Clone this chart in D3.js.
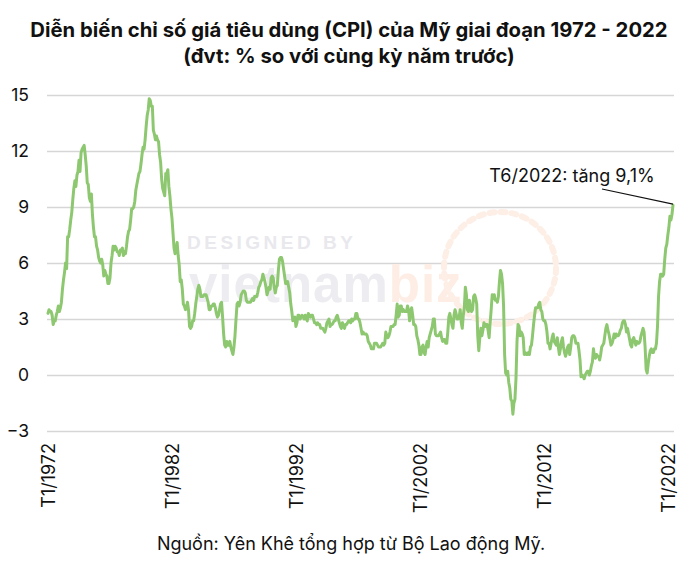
<!DOCTYPE html>
<html>
<head>
<meta charset="utf-8">
<script src="https://cdn.jsdelivr.net/npm/d3@7"></script>
<style>
  html, body { margin: 0; padding: 0; background: #ffffff; }
  svg { display: block; }
</style>
</head>
<body>
<div id="chart"></div>
<script>
// ---- DATA ----
const titleLines = [
  "Diễn biến chỉ số giá tiêu dùng (CPI) của Mỹ giai đoạn 1972 - 2022",
  "(đvt: % so với cùng kỳ năm trước)"
];
const sourceText = "Nguồn: Yên Khê tổng hợp từ Bộ Lao động Mỹ.";
const annotationText = "T6/2022: tăng 9,1%";
const startYear = 1972;
const yTicks = [-3, 0, 3, 6, 9, 12, 15];
const xTickYears = [1972, 1982, 1992, 2002, 2012, 2022];

// Monthly CPI, % y/y, Jan 1972 .. Jun 2022 (one row per year)
const cpiYoY = [
  [3.3, 3.5, 3.4, 3.4, 3.2, 2.7, 2.9, 2.9, 3.2, 3.4, 3.7, 3.4],
  [3.6, 3.9, 4.6, 5.1, 5.5, 6.0, 5.7, 7.4, 7.4, 7.8, 8.3, 8.7],
  [9.4, 10.0, 10.4, 10.1, 10.7, 10.9, 11.5, 10.9, 11.9, 12.1, 12.2, 12.3],
  [11.8, 11.2, 10.3, 10.2, 9.5, 9.3, 9.7, 8.6, 7.9, 7.4, 7.4, 6.9],
  [6.7, 6.3, 6.1, 6.0, 6.2, 5.9, 5.3, 5.6, 5.4, 5.3, 4.9, 4.9],
  [5.2, 6.0, 6.4, 6.9, 6.7, 6.9, 6.8, 6.6, 6.6, 6.4, 6.7, 6.7],
  [6.8, 6.4, 6.6, 6.5, 6.9, 7.4, 7.7, 7.8, 8.3, 8.9, 8.9, 9.0],
  [9.3, 9.9, 10.2, 10.5, 10.8, 10.9, 11.3, 11.8, 12.2, 12.1, 12.6, 13.3],
  [13.9, 14.2, 14.8, 14.7, 14.4, 14.4, 13.1, 12.9, 12.6, 12.8, 12.6, 12.5],
  [11.8, 11.4, 10.5, 10.0, 9.8, 9.6, 10.8, 10.8, 11.0, 10.1, 9.6, 8.9],
  [8.4, 7.6, 6.8, 6.5, 6.7, 7.1, 6.4, 5.9, 5.0, 5.1, 4.6, 3.8],
  [3.7, 3.5, 3.6, 3.9, 3.5, 2.6, 2.5, 2.6, 2.9, 2.9, 3.3, 3.8],
  [4.2, 4.6, 4.8, 4.6, 4.2, 4.2, 4.2, 4.3, 4.3, 4.3, 4.1, 3.9],
  [3.5, 3.5, 3.7, 3.7, 3.8, 3.8, 3.6, 3.3, 3.1, 3.2, 3.5, 3.8],
  [3.9, 3.1, 2.2, 1.6, 1.5, 1.8, 1.6, 1.6, 1.8, 1.5, 1.3, 1.1],
  [1.5, 2.1, 3.0, 3.8, 3.9, 3.7, 3.9, 4.3, 4.4, 4.5, 4.5, 4.4],
  [4.0, 3.9, 3.9, 3.9, 3.9, 4.0, 4.1, 4.0, 4.2, 4.2, 4.2, 4.4],
  [4.7, 4.8, 5.0, 5.1, 5.4, 5.2, 5.0, 4.7, 4.3, 4.5, 4.7, 4.6],
  [5.2, 5.3, 5.2, 4.7, 4.4, 4.7, 4.8, 5.6, 6.2, 6.3, 6.3, 6.1],
  [5.7, 5.3, 4.9, 4.9, 5.0, 4.7, 4.4, 3.8, 3.4, 2.9, 3.0, 3.1],
  [2.6, 2.8, 3.2, 3.2, 3.0, 3.1, 3.2, 3.1, 3.0, 3.2, 3.0, 2.9],
  [3.3, 3.2, 3.1, 3.2, 3.2, 3.0, 2.8, 2.8, 2.7, 2.8, 2.7, 2.7],
  [2.5, 2.5, 2.5, 2.4, 2.3, 2.5, 2.8, 2.9, 3.0, 2.6, 2.7, 2.7],
  [2.8, 2.9, 2.9, 3.1, 3.2, 3.0, 2.8, 2.6, 2.5, 2.8, 2.6, 2.5],
  [2.7, 2.7, 2.8, 2.9, 2.9, 2.8, 3.0, 2.9, 3.0, 3.0, 3.3, 3.3],
  [3.0, 3.0, 2.8, 2.5, 2.2, 2.3, 2.2, 2.2, 2.2, 2.1, 1.8, 1.7],
  [1.6, 1.4, 1.4, 1.4, 1.7, 1.7, 1.7, 1.6, 1.5, 1.5, 1.5, 1.6],
  [1.7, 1.6, 1.7, 2.3, 2.1, 2.0, 2.1, 2.3, 2.6, 2.6, 2.6, 2.7],
  [2.7, 3.2, 3.8, 3.1, 3.2, 3.7, 3.7, 3.4, 3.5, 3.4, 3.4, 3.4],
  [3.7, 3.5, 2.9, 3.3, 3.6, 3.2, 2.7, 2.7, 2.6, 2.1, 1.9, 1.6],
  [1.1, 1.1, 1.5, 1.6, 1.2, 1.1, 1.5, 1.8, 1.5, 2.0, 2.2, 2.4],
  [2.6, 3.0, 3.0, 2.2, 2.1, 2.1, 2.1, 2.2, 2.3, 2.0, 1.8, 1.9],
  [1.9, 1.7, 1.7, 2.3, 3.1, 3.3, 3.0, 2.7, 2.5, 3.2, 3.5, 3.3],
  [3.0, 3.0, 3.1, 3.5, 2.8, 2.5, 3.2, 3.6, 4.7, 4.3, 3.5, 3.4],
  [4.0, 3.6, 3.4, 3.5, 4.2, 4.3, 4.1, 3.8, 2.1, 1.3, 2.0, 2.5],
  [2.1, 2.4, 2.8, 2.6, 2.7, 2.7, 2.4, 2.0, 2.8, 3.5, 4.3, 4.1],
  [4.3, 4.0, 4.0, 3.9, 4.2, 5.0, 5.6, 5.4, 4.9, 3.7, 1.1, 0.1],
  [0.0, 0.2, -0.4, -0.7, -1.3, -1.4, -2.1, -1.5, -1.3, -0.2, 1.8, 2.7],
  [2.6, 2.1, 2.3, 2.2, 2.0, 1.1, 1.2, 1.1, 1.1, 1.2, 1.1, 1.5],
  [1.6, 2.1, 2.7, 3.2, 3.6, 3.6, 3.6, 3.8, 3.9, 3.5, 3.4, 3.0],
  [2.9, 2.9, 2.7, 2.3, 1.7, 1.7, 1.4, 1.7, 2.0, 2.2, 1.8, 1.7],
  [1.6, 2.0, 1.5, 1.1, 1.4, 1.8, 2.0, 1.5, 1.2, 1.0, 1.2, 1.5],
  [1.6, 1.1, 1.5, 2.0, 2.1, 2.1, 2.0, 1.7, 1.7, 1.7, 1.3, 0.8],
  [-0.1, 0.0, -0.1, -0.2, 0.0, 0.1, 0.2, 0.2, 0.0, 0.2, 0.5, 0.7],
  [1.4, 1.0, 0.9, 1.1, 1.0, 1.0, 0.8, 1.1, 1.5, 1.6, 1.7, 2.1],
  [2.5, 2.7, 2.4, 2.2, 1.9, 1.6, 1.7, 1.9, 2.2, 2.0, 2.2, 2.1],
  [2.1, 2.2, 2.4, 2.5, 2.8, 2.9, 2.9, 2.7, 2.3, 2.5, 2.2, 1.9],
  [1.6, 1.5, 1.9, 2.0, 1.8, 1.6, 1.8, 1.7, 1.7, 1.8, 2.1, 2.3],
  [2.5, 2.3, 1.5, 0.3, 0.1, 0.6, 1.0, 1.3, 1.4, 1.2, 1.2, 1.4],
  [1.4, 1.7, 2.6, 4.2, 5.0, 5.4, 5.4, 5.3, 5.4, 6.2, 6.8, 7.0],
  [7.5, 7.9, 8.5, 8.3, 8.6, 9.1]
];

// ---- BUILD ----
const series = cpiYoY.flatMap((row, yi) =>
  row.map((v, mi) => ({ i: yi * 12 + mi, year: startYear + yi, month: mi + 1, value: v }))
);
const lastIndex = series.length - 1;

const W = 700, H = 566;
const plot = { left: 48, right: 673, top: 95, bottom: 431 };
const gridRight = 674;
const FONT = "Inter, 'Liberation Sans', Arial, sans-serif";

const svg = d3.select("#chart").append("svg")
  .attr("width", W).attr("height", H)
  .style("font-family", FONT);

svg.append("rect").attr("width", W).attr("height", H).attr("fill", "#fff");

const x = d3.scaleLinear().domain([0, lastIndex]).range([plot.left, plot.right]);
const y = d3.scaleLinear().domain([-3, 15]).range([plot.bottom, plot.top]);

// Title
svg.append("g").selectAll("text").data(titleLines).join("text")
  .attr("x", 349).attr("y", (d, i) => 37 + i * 26)
  .attr("text-anchor", "middle")
  .style("font-weight", "700")
  .style("font-size", "20.3px")
  .attr("fill", "#111")
  .text(d => d);

// Y axis with gridlines
const yAxis = d3.axisLeft(y)
  .tickValues(yTicks)
  .tickSize(-(gridRight - plot.left + 1))
  .tickPadding(18)
  .tickFormat(d3.format("d"));

const gy = svg.append("g")
  .attr("transform", `translate(${plot.left - 1},0)`)
  .call(yAxis);
gy.select(".domain").remove();
gy.selectAll(".tick line").attr("stroke", "#d6d6d6").attr("stroke-width", 1.5);
gy.selectAll(".tick text")
  .style("font-family", FONT)
  .style("font-size", "17.5px")
  .attr("fill", "#111");

// Watermark (faint)
const WMFONT = "'Liberation Sans', Arial, sans-serif";
const wm = svg.append("g").attr("pointer-events", "none");
wm.append("text")
  .attr("x", 187).attr("y", 249)
  .style("font-family", WMFONT)
  .style("font-weight", "700").style("font-size", "19px")
  .style("letter-spacing", "3.5px")
  .attr("fill", "#e8e8ed")
  .text("DESIGNED BY");
const wmt = wm.append("text")
  .attr("x", 189).attr("y", 302)
  .style("font-family", WMFONT)
  .style("font-weight", "700").style("font-size", "51px")
  .style("letter-spacing", "1px");
wmt.append("tspan").attr("fill", "#ededf1").text("vietnam");
wmt.append("tspan").attr("fill", "#fdede4").text("biz");
wm.append("circle")
  .attr("cx", 500).attr("cy", 268).attr("r", 56)
  .attr("fill", "none").attr("stroke", "#fdeee6")
  .attr("stroke-width", 6).attr("stroke-dasharray", "5 6")
  .attr("stroke-linecap", "round");

// X axis labels
const xAxis = d3.axisBottom(x)
  .tickValues(xTickYears.map(yr => (yr - startYear) * 12))
  .tickSize(0)
  .tickFormat(i => "T1/" + (startYear + Math.round(i / 12)));

const gx = svg.append("g")
  .attr("transform", `translate(0,${plot.bottom})`)
  .call(xAxis);
gx.select(".domain").remove();
gx.selectAll(".tick text")
  .style("font-family", FONT)
  .style("font-size", "18px")
  .attr("fill", "#111")
  .attr("text-anchor", "end")
  .attr("dy", "0.36em")
  .attr("transform", "translate(0,12) rotate(-90)")
  .attr("x", 0).attr("y", 0);

// Line
const line = d3.line()
  .x(d => x(d.i))
  .y(d => y(d.value))
  .curve(d3.curveLinear);

svg.append("path")
  .datum(series)
  .attr("fill", "none")
  .attr("stroke", "#8dc870")
  .attr("stroke-width", 3)
  .attr("stroke-linejoin", "round")
  .attr("stroke-linecap", "round")
  .attr("d", line);

// Annotation
const last = series[lastIndex];
svg.append("line")
  .attr("x1", 602).attr("y1", 189)
  .attr("x2", x(last.i)).attr("y2", y(last.value) - 1)
  .attr("stroke", "#111").attr("stroke-width", 1.2);
svg.append("text")
  .attr("x", 572).attr("y", 182)
  .attr("text-anchor", "middle")
  .style("font-size", "18px")
  .attr("fill", "#111")
  .text(annotationText);

// Source
svg.append("text")
  .attr("x", 351).attr("y", 550)
  .attr("text-anchor", "middle")
  .style("font-size", "18px")
  .attr("fill", "#111")
  .text(sourceText);
</script>
</body>
</html>
